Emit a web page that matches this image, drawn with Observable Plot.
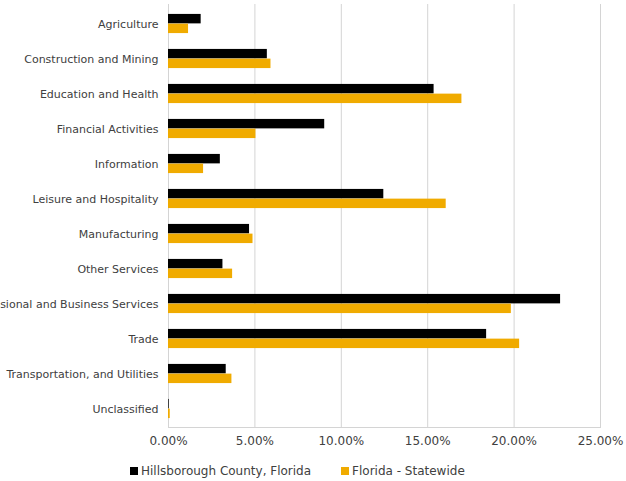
<!DOCTYPE html>
<html>
<head>
<meta charset="utf-8">
<script src="https://cdn.jsdelivr.net/npm/d3@7"></script>
<script src="https://cdn.jsdelivr.net/npm/@observablehq/plot@0.6"></script>
<style>
  html, body { margin: 0; padding: 0; background: #fff; }
  #chart { width: 626px; }
  .legend { height: 26px; padding-top: 3px; display: flex; align-items: center; font-family: "DejaVu Sans", Verdana, sans-serif; font-size: 12px; color: #404040; padding-left: 130px; }
  .legend .item { display: flex; align-items: center; }
  .legend .sw { width: 8px; height: 8px; margin-right: 3px; }
</style>
</head>
<body>
<div id="chart"></div>
<script>
const categories = [
  "Agriculture",
  "Construction and Mining",
  "Education and Health",
  "Financial Activities",
  "Information",
  "Leisure and Hospitality",
  "Manufacturing",
  "Other Services",
  "Professional and Business Services",
  "Trade",
  "Transportation, and Utilities",
  "Unclassified"
];
const seriesNames = ["Hillsborough County, Florida", "Florida - Statewide"];
const hillsborough = [1.89, 5.72, 15.37, 9.04, 3.0, 12.46, 4.69, 3.15, 22.69, 18.41, 3.34, 0.04];
const statewide    = [1.16, 5.93, 16.98, 5.06, 2.03, 16.07, 4.89, 3.71, 19.84, 20.32, 3.67, 0.10];
const xTicks = [0, 5, 10, 15, 20, 25];
const colors = ["#000000", "#f0ab00"];

const rowsA = categories.map((c, i) => ({category: c, value: hillsborough[i]}));
const rowsB = categories.map((c, i) => ({category: c, value: statewide[i]}));

const width = 626, height = 455;
const mt = 4, mb = 28, ml = 168, mr = 26;
const band = (height - mt - mb) / categories.length;
const barH = 9.7;
const outer = (band - 2 * barH) / 2;

const grid = "#d4d4d4";
const font = "DejaVu Sans, Verdana, sans-serif";

const chart = Plot.plot({
  width, height,
  marginTop: mt, marginBottom: mb, marginLeft: ml, marginRight: mr,
  style: {fontFamily: font, color: "#404040", background: "#fff"},
  x: {domain: [0, 25], ticks: xTicks, label: null},
  y: {domain: categories, padding: 0, label: null},
  marks: [
    Plot.gridX(xTicks, {stroke: grid, strokeOpacity: 1, strokeWidth: 1}),
    Plot.frame({anchor: "bottom", stroke: grid}),
    Plot.barX(rowsA, {x: "value", y: "category", fill: colors[0], insetTop: outer, insetBottom: band - outer - barH}),
    Plot.barX(rowsB, {x: "value", y: "category", fill: colors[1], insetTop: outer + barH, insetBottom: outer}),
    Plot.axisX(xTicks, {tickSize: 0, tickPadding: 9, fontSize: 12, tickFormat: d => d.toFixed(2) + "%", fill: "#404040", label: null}),
    Plot.axisY({tickSize: 0, tickPadding: 10, fontSize: 11, fill: "#404040", tickFormat: d => d, label: null})
  ]
});
document.getElementById("chart").appendChild(chart);

const legend = document.createElement("div");
legend.className = "legend";
seriesNames.forEach((name, i) => {
  const item = document.createElement("div");
  item.className = "item";
  item.style.marginRight = i === 0 ? "30px" : "0";
  const sw = document.createElement("span");
  sw.className = "sw";
  sw.style.background = colors[i];
  const t = document.createElement("span");
  t.textContent = name;
  item.appendChild(sw);
  item.appendChild(t);
  legend.appendChild(item);
});
document.getElementById("chart").appendChild(legend);
</script>
</body>
</html>
